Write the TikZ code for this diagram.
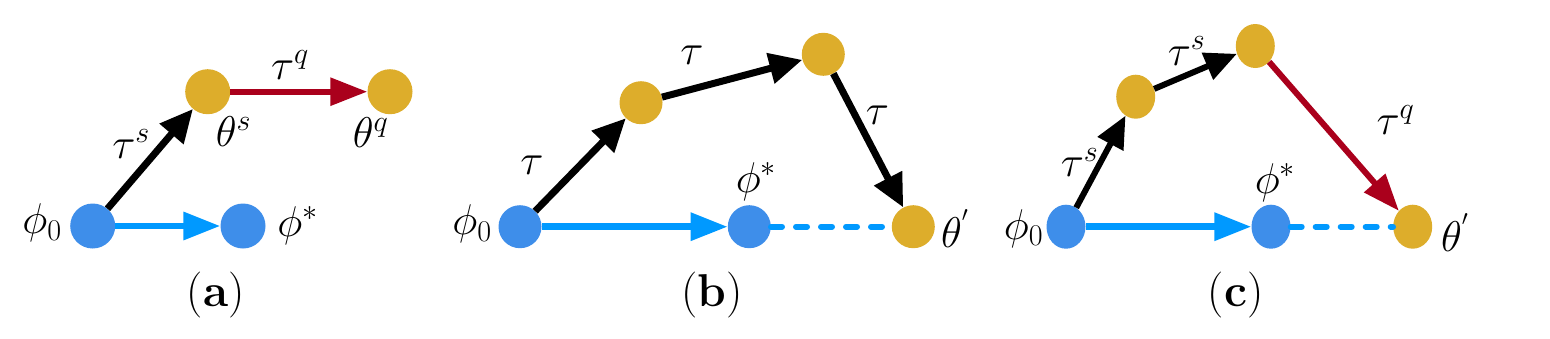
\documentclass[tikz,border=0pt]{standalone}
\usepackage{fix-cm}
\usetikzlibrary{arrows.meta,shapes.geometric}
\definecolor{nodeblue}{RGB}{62,142,234}
\definecolor{arrowblue}{RGB}{0,153,255}
\definecolor{gold}{RGB}{221,173,43}
\definecolor{darkred}{RGB}{170,0,28}
\tikzset{
  dota/.style={circle,inner sep=0pt,minimum size=45pt},
  dotb/.style={circle,inner sep=0pt,minimum size=43pt},
  dotc/.style={ellipse,inner sep=0pt,minimum width=39pt,minimum height=44pt},
  bluedot/.style={fill=nodeblue},
  golddot/.style={fill=gold},
  lbl/.style={inner sep=0pt,font=\fontsize{43}{47}\selectfont},
  captxt/.style={inner sep=0pt,font=\fontsize{46}{50}\selectfont},
  blackarrow/.style={line width=7pt,black,-{Triangle[length=33pt,width=30pt]}},
  blackarrowc/.style={line width=6pt,black,-{Triangle[length=32pt,width=28pt]}},
  redarrow/.style={line width=6pt,darkred,-{Triangle[length=37pt,width=27pt]}},
  bluearrow/.style={line width=6.5pt,arrowblue,-{Triangle[length=37pt,width=27pt]}},
  bluedash/.style={line width=6pt,arrowblue,line cap=round,dash pattern=on 11pt off 14pt},
}
\begin{document}
\begin{tikzpicture}[x=1pt,y=-1pt]
\useasboundingbox (0,0) rectangle (1550,338);
% ---------- (a)
\node[dota,bluedot] (a0) at (92.7,226) {};
\node[dota,bluedot] (as) at (243,226) {};
\node[dota,golddot] (a1) at (207.7,91.7) {};
\node[dota,golddot] (a2) at (390,91.7) {};
\draw[blackarrow] (a0) -- (a1);
\draw[redarrow] (a1) -- (a2);
\draw[bluearrow] (a0) -- (as);
\node[lbl] (la0) at (42,223) {$\phi_0$};
\node[lbl] (las) at (297.5,225.5) {$\phi^*$};
\node[lbl] (la1) at (233.5,131.5) {$\theta^s$};
\node[lbl] (la2) at (370.5,132.5) {$\theta^q$};
\node[lbl] (lat1) at (131,144) {$\tau^s$};
\node[lbl] (lat2) at (290,65) {$\tau^q$};
\node[captxt] (capa) at (215.7,295) {(\textbf{a})};
% ---------- (b)
\node[dotb,bluedot] (b0) at (520,226.7) {};
\node[dotb,bluedot] (bs) at (749.3,226.7) {};
\node[dotb,golddot] (b1) at (641,102.7) {};
\node[dotb,golddot] (b2) at (823.3,54.3) {};
\node[dotb,golddot] (b3) at (913.3,226.7) {};
\draw[bluedash] (bs) -- (b3);
\draw[bluearrow] (b0) -- (bs);
\draw[blackarrow] (b0) -- (b1);
\draw[blackarrow] (b1) -- (b2);
\draw[blackarrow] (b2) -- (b3);
\node[lbl] (lb0) at (472,224) {$\phi_0$};
\node[lbl] (lbs) at (756,181.5) {$\phi^*$};
\node[lbl] (lb3) at (955,228.5) {$\theta^{'}$};
\node[lbl] (lbt1) at (532,165) {$\tau$};
\node[lbl] (lbt2) at (692,55) {$\tau$};
\node[lbl] (lbt3) at (877.5,115) {$\tau$};
\node[captxt] (capb) at (712,295) {(\textbf{b})};
% ---------- (c)
\node[dotc,bluedot] (c0) at (1066,226.7) {};
\node[dotc,bluedot] (cs) at (1271,226.7) {};
\node[dotc,golddot] (c1) at (1135.7,96.7) {};
\node[dotc,golddot] (c2) at (1255.3,46) {};
\node[dotc,golddot] (c3) at (1412.7,226.7) {};
\draw[bluedash] (cs) -- (c3);
\draw[bluearrow] (c0) -- (cs);
\draw[blackarrowc] (c0) -- (c1);
\draw[blackarrowc] (c1) -- (c2);
\draw[redarrow] (c2) -- (c3);
\node[lbl] (lc0) at (1023.5,228.5) {$\phi_0$};
\node[lbl] (lcs) at (1275,182.5) {$\phi^*$};
\node[lbl] (lc3) at (1455,232.5) {$\theta^{'}$};
\node[lbl] (lct1) at (1079.5,162.5) {$\tau^s$};
\node[lbl] (lct2) at (1186.5,51) {$\tau^s$};
\node[lbl] (lct3) at (1395.5,120) {$\tau^q$};
\node[captxt] (capc) at (1235.5,295) {(\textbf{c})};
\end{tikzpicture}
\end{document}
